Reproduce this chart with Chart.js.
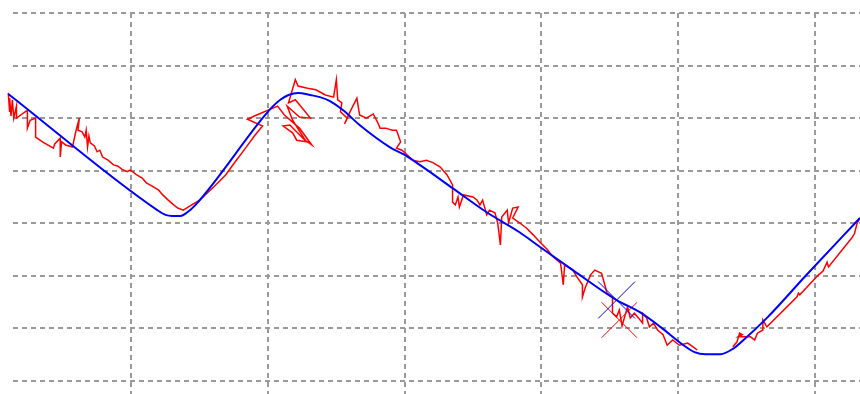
<!DOCTYPE html>
<html>
<head>
<meta charset="utf-8">
<script src="https://cdn.jsdelivr.net/npm/chart.js@4"></script>
<style>
  html, body { margin: 0; padding: 0; background: #fff; }
  canvas { display: block; }
</style>
</head>
<body>
<canvas id="trackChart" width="860" height="394"></canvas>
<script>
// grid positions (one grid step = 1 unit)
const xTicks = [1, 2, 3, 4, 5, 6];
const yTicks = [0, 1, 2, 3, 4, 5, 6, 7];

// planned path (blue)
const blueX = [0.10, 1.19, 1.25, 1.30, 1.36, 1.41, 1.47, 1.96, 2.03, 2.09, 2.15, 2.22, 2.31, 2.38, 2.45, 2.55, 2.67, 2.89, 3.00, 3.11, 3.35, 3.60, 3.84, 3.99, 4.23, 4.55, 4.72, 4.87, 5.04, 5.12, 5.20, 5.31, 5.40, 5.47, 5.65, 5.94, 6.33];
const blueY = [5.46, 3.25, 3.16, 3.14, 3.14, 3.21, 3.35, 5.00, 5.21, 5.35, 5.44, 5.48, 5.44, 5.40, 5.33, 5.15, 4.87, 4.45, 4.30, 4.11, 3.67, 3.21, 2.83, 2.55, 2.11, 1.54, 1.31, 1.03, 0.68, 0.55, 0.51, 0.51, 0.61, 0.76, 1.20, 2.02, 3.10];

// measured track (red), null = gap
const redX = [
  0.10, 0.11, 0.11, 0.12, 0.13, 0.14, 0.16, 0.16, 0.24, 0.24, 0.26, 0.30, 0.30, 0.35, 0.43, 0.44, 0.48, 0.48, 0.49, 0.52,
  0.57, 0.58, 0.60, 0.62, 0.61, 0.64, 0.66, 0.67, 0.68, 0.69, 0.70, 0.73, 0.75, 0.77, 0.79, 0.83, 0.87, 0.90, 0.93, 0.97,
  0.99, 1.01, 1.04, 1.08, 1.11, 1.15, 1.20, 1.23, 1.27, 1.31, 1.34, 1.38, 1.43, 1.50, 1.61, 1.69, 1.76, 1.83, 1.90, 1.96,
  1.85, 1.90, 2.07, 2.12, 2.23, 2.32, 2.27, 2.16, 2.11, 2.18, 2.21, 2.28, 2.18, 2.14, 2.23, 2.31, 2.20, 2.15, 2.20, 2.22,
  2.29, 2.35, 2.42, 2.48, 2.50, 2.51, 2.54, 2.53, 2.58, 2.56, 2.60, 2.65, 2.67, 2.72, 2.77, 2.80, 2.82, 2.86, 2.91, 2.94,
  2.97, 2.94, 2.98,
  3.06, 3.11, 3.16, 3.21, 3.26, 3.31, 3.35, 3.35, 3.37, 3.39, 3.40, 3.43, 3.50, 3.53, 3.55, 3.57, 3.60, 3.62, 3.66, 3.68,
  3.70, 3.71, 3.75, 3.76, 3.79, 3.83, 3.79, 3.84, 3.89, 3.94, 3.99, 4.04, 4.08, 4.14, 4.16, 4.17, 4.23,
  4.26, 4.30, 4.30, 4.32, 4.36, 4.39, 4.44, 4.47, 4.48, 4.52, 4.52, 4.55, 4.57, 4.59, 4.63, 4.65, 4.68, 4.71, 4.74, 4.74,
  4.77, 4.79, 4.82, 4.85, 4.89, 4.92, 4.96, 5.01, 5.07, 5.11, 5.14,
  null,
  5.40, 5.43, 5.45, 5.47, 5.44, 5.53, 5.56, 5.58, 5.62, 5.62, 5.65, 5.87, 5.88, 5.89, 6.02, 6.06, 6.09, 6.10, 6.27, 6.29,
  6.31, 6.33
];
const redY = [
  5.48, 5.12, 5.38, 5.04, 5.35, 5.00, 5.23, 5.00, 5.15, 4.81, 4.96, 5.00, 4.64, 4.55, 4.43, 4.51, 4.62, 4.26, 4.55, 4.49,
  4.45, 4.58, 4.81, 5.00, 4.77, 4.74, 4.64, 4.77, 4.45, 4.66, 4.53, 4.47, 4.36, 4.39, 4.26, 4.20, 4.11, 4.09, 4.03, 3.98,
  4.01, 3.98, 3.92, 3.86, 3.77, 3.71, 3.63, 3.54, 3.44, 3.35, 3.29, 3.25, 3.33, 3.44, 3.71, 3.92, 4.17, 4.41, 4.66, 4.85,
  4.98, 5.04, 5.23, 5.06, 4.81, 4.49, 4.58, 4.87, 4.85, 4.72, 4.58, 4.55, 4.96, 5.23, 5.02, 5.00, 5.35, 5.29, 5.73, 5.61,
  5.57, 5.54, 5.44, 5.40, 5.73, 5.35, 5.29, 5.12, 5.00, 4.89, 5.12, 5.38, 5.06, 5.00, 5.08, 4.93, 4.81, 4.81, 4.77, 4.77,
  4.55, 4.43, 4.39,
  4.20, 4.17, 4.20, 4.15, 4.07, 3.92, 3.73, 3.40, 3.35, 3.50, 3.31, 3.54, 3.50, 3.44, 3.35, 3.44, 3.16, 3.25, 3.20, 3.01,
  2.59, 3.12, 3.25, 3.01, 3.29, 3.31, 3.10, 3.01, 2.91, 2.78, 2.64, 2.51, 2.38, 2.24, 1.83, 2.21, 2.11,
  1.98, 1.83, 1.60, 1.77, 2.02, 2.11, 2.05, 1.77, 1.67, 1.60, 1.29, 1.22, 1.35, 1.05, 1.41, 1.20, 1.29, 1.20, 1.10, 1.29,
  1.20, 1.03, 1.10, 0.97, 0.88, 0.68, 0.78, 0.68, 0.72, 0.65, 0.59,
  null,
  0.65, 0.74, 0.91, 0.88, 0.84, 0.84, 0.78, 0.91, 0.97, 1.16, 1.03, 1.60, 1.67, 1.64, 2.00, 2.09, 2.26, 2.17, 2.72, 2.80,
  3.01, 3.10
];

// current positions (X markers)
const blueMarker = [4.55, 1.54];
const redMarker = [4.57, 1.16];

document.addEventListener("DOMContentLoaded", () => {
  const toPoints = (xs, ys) => xs.map((x, i) => ({ x: x, y: ys[i] }));
  const gridColor = "#9a9a9a";

  const ctx = document.getElementById("trackChart").getContext("2d");
  new Chart(ctx, {
    type: "scatter",
    data: {
      datasets: [
        {
          data: [{ x: blueMarker[0], y: blueMarker[1] }],
          pointStyle: "crossRot",
          pointRadius: 26,
          borderColor: "#0000ff",
          borderWidth: 1,
          clip: false,
        },
        {
          data: toPoints(blueX, blueY),
          showLine: true,
          borderColor: "#0000ff",
          borderWidth: 2,
          pointRadius: 0,
          cubicInterpolationMode: "monotone",
          clip: false,
        },
        {
          data: [{ x: redMarker[0], y: redMarker[1] }],
          pointStyle: "crossRot",
          pointRadius: 25,
          borderColor: "#ff0000",
          borderWidth: 1,
          clip: false,
        },
        {
          data: toPoints(redX, redY),
          showLine: true,
          borderColor: "#ff0000",
          borderWidth: 1.5,
          pointRadius: 0,
          tension: 0,
          clip: false,
        },
      ],
    },
    options: {
      responsive: false,
      animation: false,
      layout: { autoPadding: false, padding: { left: 13, top: 13, right: 0, bottom: 0 } },
      plugins: { legend: { display: false }, tooltip: { enabled: false } },
      scales: {
        x: {
          type: "linear",
          min: 0.1346,
          max: 6.3306,
          afterBuildTicks: (scale) => { scale.ticks = xTicks.map((v) => ({ value: v })); },
          ticks: { display: false },
          border: { display: false, dash: [5, 4] },
          grid: { color: gridColor, lineWidth: 2, drawTicks: false },
        },
        y: {
          type: "linear",
          min: -0.2473,
          max: 7,
          afterBuildTicks: (scale) => { scale.ticks = yTicks.map((v) => ({ value: v })); },
          ticks: { display: false },
          border: { display: false, dash: [5, 4] },
          grid: { color: gridColor, lineWidth: 2, drawTicks: false },
        },
      },
    },
  });
});
</script>
</body>
</html>
